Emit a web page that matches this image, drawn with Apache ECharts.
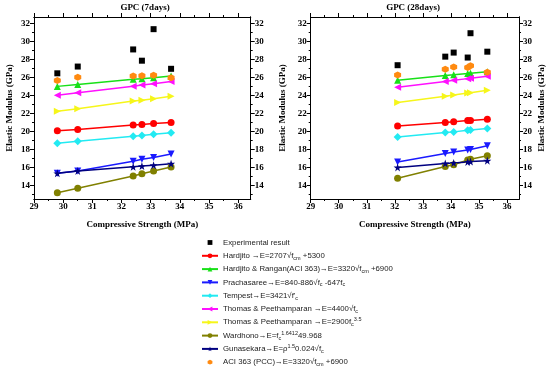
<!DOCTYPE html>
<html>
<head>
<meta charset="utf-8">
<script src="https://cdn.jsdelivr.net/npm/echarts@6/dist/echarts.min.js"></script>
<style>html,body{margin:0;padding:0;background:#fff}#c{width:550px;height:369px}</style>
</head>
<body>
<div id="c"></div>
<script>
// ---- data ----
const xs7  = [29.8, 30.5, 32.4, 32.7, 33.1, 33.7];
const xs28 = [32.1, 33.8, 34.1, 34.6, 34.7, 35.3];

const exp7      = [26.45, 27.2, 29.1, 27.85, 31.35, 26.95];
const hardjito7 = [20.07, 20.22, 20.7, 20.78, 20.87, 21.0];
const rangan7   = [25.0, 25.22, 25.78, 25.86, 25.97, 26.15];
const prach7    = [15.35, 15.6, 16.7, 16.9, 17.1, 17.5];
const tempest7  = [18.7, 18.9, 19.47, 19.56, 19.68, 19.86];
const thomasA7  = [24.02, 24.28, 25.02, 25.15, 25.3, 25.53];
const thomasB7  = [22.25, 22.52, 23.37, 23.47, 23.62, 23.9];
const ward7     = [13.2, 13.7, 15.05, 15.3, 15.6, 16.05];
const guna7     = [15.35, 15.62, 16.07, 16.15, 16.25, 16.42];
const aci7      = [25.65, 26.02, 26.15, 26.18, 26.24, 25.95];

const exp28      = [27.35, 28.3, 28.75, 28.2, 30.9, 28.85];
const hardjito28 = [20.6, 21.0, 21.07, 21.2, 21.22, 21.35];
const rangan28   = [25.68, 26.2, 26.28, 26.43, 26.47, 26.63];
const prach28    = [16.6, 17.55, 17.72, 17.95, 18.0, 18.4];
const tempest28  = [19.38, 19.87, 19.95, 20.12, 20.15, 20.32];
const thomasA28  = [24.9, 25.55, 25.67, 25.86, 25.9, 26.12];
const thomasB28  = [23.22, 23.9, 24.03, 24.27, 24.3, 24.57];
const ward28     = [14.8, 16.1, 16.3, 16.82, 16.9, 17.3];
const guna28     = [16.0, 16.45, 16.5, 16.62, 16.65, 16.75];
const aci28      = [26.26, 26.9, 27.15, 27.1, 27.3, 26.56];

const xTicks  = [29, 30, 31, 32, 33, 34, 35, 36];
const xMinor  = [29.5, 30.5, 31.5, 32.5, 33.5, 34.5, 35.5];
const yTicks  = [14, 16, 18, 20, 22, 24, 26, 28, 30, 32];
const yMinor  = [13, 15, 17, 19, 21, 23, 25, 27, 29, 31];

const titles = ['GPC (7days)', 'GPC (28days)'];
const xName = 'Compressive Strength (MPa)';
const yName = 'Elastic Modulus (GPa)';

const seriesNames = ['Experimental result', 'Hardjito', 'Hardjito & Rangan', 'Prachasaree', 'Tempest',
  'Thomas & Peethamparan A', 'Thomas & Peethamparan B', 'Wardhono', 'Gunasekara', 'ACI 363 (PCC)'];
const legendLabels = [
  'Experimental result',
  'Hardjito →E=2707√f{b|cm} +5300',
  'Hardjito & Rangan(ACI 363)→E=3320√f{b|cm} +6900',
  'Prachasaree→E=840-886√f{b|c} -647f{b|c}',
  'Tempest→E=3421√f\'{b|c}',
  'Thomas & Peethamparan →E=4400√f{b|c}',
  'Thomas & Peethamparan →E=2900f{b|c}{p|3.5}',
  'Wardhono→E=f{b|c}{p|1.6412}49.968',
  'Gunasekara→E=ρ{p|1.5}0.024√f{b|c}',
  'ACI 363 (PCC)→E=3320√f{b|cm} +6900'
];
const values7  = [exp7, hardjito7, rangan7, prach7, tempest7, thomasA7, thomasB7, ward7, guna7, aci7];
const values28 = [exp28, hardjito28, rangan28, prach28, tempest28, thomasA28, thomasB28, ward28, guna28, aci28];

// ---- styles ----
const colors = ['#000000', '#ff0000', '#18e018', '#1a1aff', '#22eaf2', '#ff10ff', '#f6f61a', '#808000', '#000080', '#ff8a10'];
const STAR = 'path://M50,0 L61.8,35.1 L98.1,35.1 L68.8,56.8 L79.4,91.9 L50,70.3 L20.6,91.9 L31.2,56.8 L1.9,35.1 L38.2,35.1 Z';
const HEX = 'path://M0,-10 L8.66,-5 L8.66,5 L0,10 L-8.66,5 L-8.66,-5 Z';
const symbols = ['rect', 'circle', 'triangle', 'path://M0,0 L10,0 L5,9 Z', 'diamond',
  'path://M9,0 L9,10 L0,5 Z', 'path://M0,0 L9,5 L0,10 Z', 'circle', STAR, HEX];
const sizes = [6, 7, 7, 7, 8, 7, 7, 7, 8, 7];
const noLine = [true, false, false, false, false, false, false, false, false, true];

const X_MIN = 29, X_MAX = 36.43, Y_MIN = 12.5, Y_MAX = 32.7;
const serif = 'Liberation Serif, Times New Roman, serif';
const sans = 'Liberation Sans, Arial, sans-serif';
const grids = [
  {left: 34, top: 17, width: 216.7, height: 182},
  {left: 310.7, top: 17, width: 208.3, height: 182}
];

function xAx(g, pos, labels, vals, len, name) {
  return {
    type: 'value', gridIndex: g, position: pos, min: X_MIN, max: X_MAX,
    axisLine: {show: true, onZero: false, lineStyle: {color: '#000', width: 1}},
    axisTick: {show: true, inside: false, length: len, customValues: vals, lineStyle: {color: '#000', width: 1}},
    axisLabel: {show: labels, customValues: vals, margin: 3, fontFamily: serif, fontWeight: 'bold', fontSize: 9, color: '#000'},
    splitLine: {show: false},
    name: name || '', nameLocation: 'middle', nameGap: 21,
    nameTextStyle: {fontFamily: serif, fontWeight: 'bold', fontSize: 9, color: '#000'}
  };
}
function yAx(g, pos, labels, vals, len, name, gap) {
  return {
    type: 'value', gridIndex: g, position: pos, min: Y_MIN, max: Y_MAX,
    axisLine: {show: true, onZero: false, lineStyle: {color: '#000', width: 1}},
    axisTick: {show: true, inside: false, length: len, customValues: vals, lineStyle: {color: '#000', width: 1}},
    axisLabel: {show: labels, customValues: vals, margin: 4, fontFamily: serif, fontWeight: 'bold', fontSize: 9, color: '#000'},
    splitLine: {show: false},
    name: name || '', nameLocation: 'middle', nameGap: gap || 24, nameRotate: 90,
    nameTextStyle: {fontFamily: serif, fontWeight: 'bold', fontSize: 9, color: '#000'}
  };
}

const xAxis = [], yAxis = [];
for (let g = 0; g < 2; g++) {
  xAxis.push(xAx(g, 'bottom', true, xTicks, 4, xName));
  xAxis.push(xAx(g, 'top', false, xTicks, 4));
  xAxis.push(xAx(g, 'bottom', false, xMinor, 2));
  xAxis.push(xAx(g, 'top', false, xMinor, 2));
  yAxis.push(yAx(g, 'left', true, yTicks, 4, yName, g === 0 ? 20 : 24));
  yAxis.push(yAx(g, 'right', true, yTicks, 4, g === 1 ? yName : '', 18));
  yAxis.push(yAx(g, 'left', false, yMinor, 2));
  yAxis.push(yAx(g, 'right', false, yMinor, 2));
}

const series = [];
[[xs7, values7], [xs28, values28]].forEach(([xs, vals], g) => {
  seriesNames.forEach((nm, i) => {
    series.push({
      name: nm,
      type: 'line',
      xAxisIndex: g * 4, yAxisIndex: g * 4,
      data: xs.map((x, k) => [x, vals[i][k]]),
      symbol: symbols[i], symbolSize: sizes[i],
      itemStyle: {color: colors[i], opacity: 1},
      lineStyle: {color: colors[i], width: 1.5, opacity: noLine[i] ? 0 : 1},
      z: noLine[i] ? 4 : 3
    });
  });
});

const chart = echarts.init(document.getElementById('c'), null, {renderer: 'canvas'});
chart.setOption({
  animation: false,
  backgroundColor: '#fff',
  title: [
    {text: titles[0], left: 140, top: -2, textAlign: 'center', textStyle: {fontFamily: serif, fontWeight: 'bold', fontSize: 9, color: '#000'}},
    {text: titles[1], left: 408, top: -2, textAlign: 'center', textStyle: {fontFamily: serif, fontWeight: 'bold', fontSize: 9, color: '#000'}}
  ],
  grid: grids,
  xAxis, yAxis,
  legend: {
    orient: 'vertical', left: 196, top: 232, height: 300,
    itemWidth: 16, itemHeight: 6, itemGap: 2.3,
    data: seriesNames,
    formatter: (nm) => legendLabels[seriesNames.indexOf(nm)],
    textStyle: {
      fontFamily: sans, fontSize: 7.8, color: '#222', lineHeight: 11,
      rich: {
        b: {fontSize: 5.5, verticalAlign: 'bottom', lineHeight: 11, fontFamily: sans, color: '#222'},
        p: {fontSize: 5.5, verticalAlign: 'top', lineHeight: 11, fontFamily: sans, color: '#222'}
      }
    }
  },
  series
});
</script>
</body>
</html>
